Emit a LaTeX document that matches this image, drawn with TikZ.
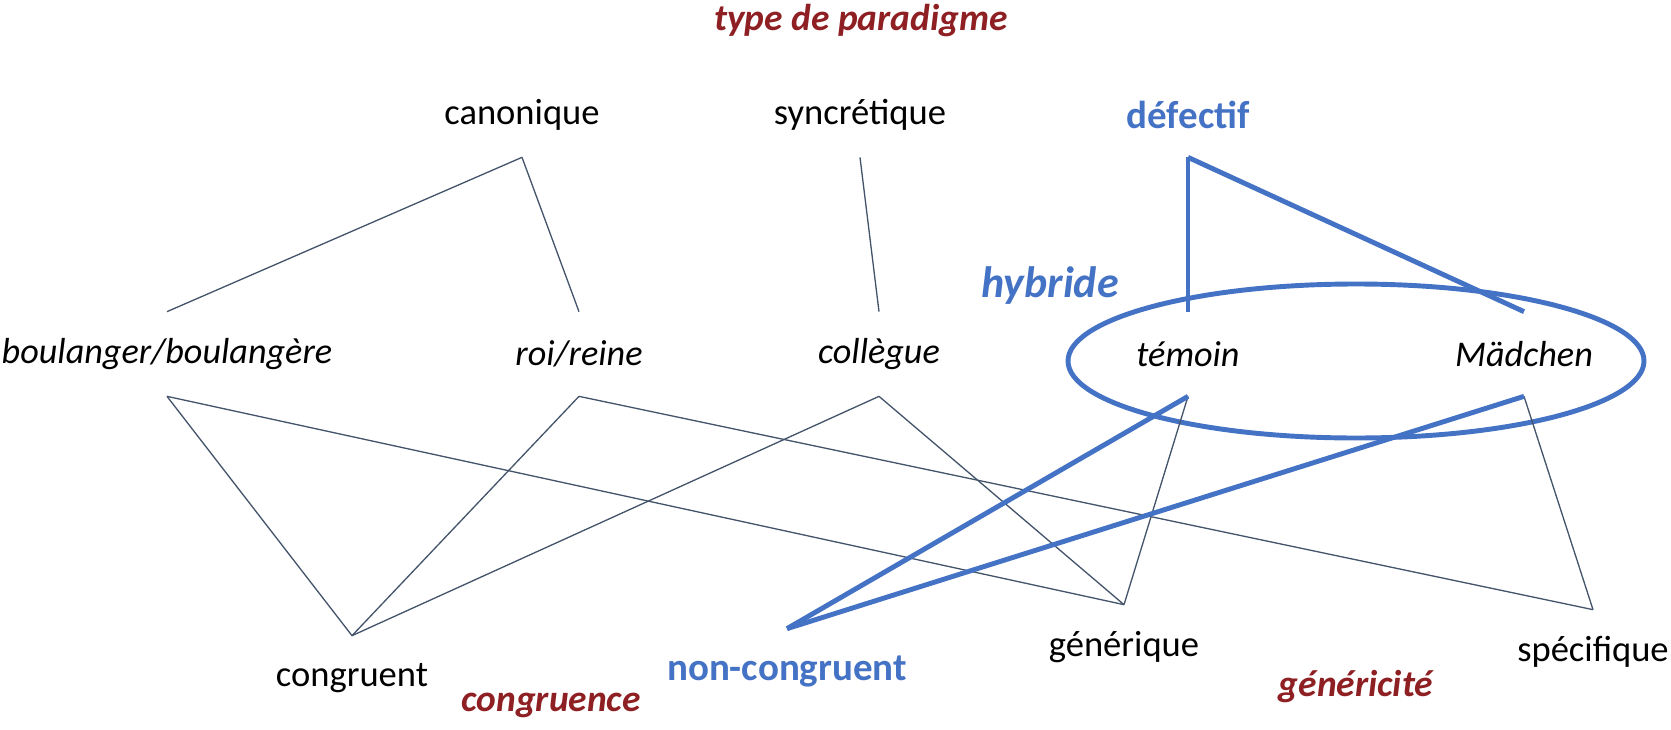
\documentclass[tikz,border=0pt]{standalone}
\usepackage{fontspec}
\setmainfont{Carlito}
\usepackage{xcolor}
\usepackage{tikz}
\usetikzlibrary{positioning}

\definecolor{titlered}{HTML}{8E1F22}
\definecolor{hybblue}{HTML}{4472C4}
\definecolor{slate}{HTML}{44546A}

\begin{document}
\begin{tikzpicture}[x=0.02cm,y=-0.02cm,
   term/.style={inner sep=0pt,minimum height=1.68cm,font=\fontsize{20.8}{24}\selectfont},
   ex/.style={term,font=\fontsize{20.6}{24}\selectfont\itshape},
   dim/.style={inner sep=0pt,text=titlered,font=\fontsize{21.3}{24}\selectfont\bfseries\itshape},
   blue/.style={term,text=hybblue,font=\fontsize{22.2}{24}\selectfont\bfseries},
   thin/.style={draw=slate,line width=0.75pt},
   thick/.style={draw=hybblue,line width=2.8pt}]
   \useasboundingbox (0,0) rectangle (1671,730);
   % dimensions
   \node[dim] (parad) at (861,21) {type de paradigme};
   \node[dim] (congr) at (551,705) {congruence};
   \node[dim] (gener) at (1356,687) {généricité};
   % paradigm types
   \node[term] (canon) at (522,115) {canonique};
   \node[term] (syncr) at (860,115) {syncrétique};
   \node[blue] (defec) at (1188,115) {défectif};
   % examples
   \node[ex] (boul) at (167,354) {boulanger/boulangère};
   \node[ex] (roi)  at (579,354) {roi/reine};
   \node[ex] (coll) at (879,354) {collègue};
   \node[ex] (temo) at (1188,354) {témoin};
   \node[ex] (mad)  at (1524,354) {Mädchen};
   \node[inner sep=0pt,text=hybblue,font=\fontsize{25}{28}\selectfont\bfseries\itshape] (hyb) at (1050,286) {hybride};
   % values
   \node[term] (cong) at (352,678) {congruent};
   \node[blue] (ncong) at (787,671) {non-congruent};
   \node[term] (gen) at (1124,647) {générique};
   \node[term] (spec) at (1593,652) {spécifique};
   \draw[thick] (1356,361) ellipse [x radius=288,y radius=77];
   \path[thin]
    (canon.south) edge (boul.north)
    (canon.south) edge (roi.north)
    (syncr.south) edge (coll.north)
    (boul.south) edge (cong.north)
    (boul.south) edge (gen.north)
    (roi.south) edge (cong.north)
    (roi.south) edge (spec.north)
    (coll.south) edge (cong.north)
    (coll.south) edge (gen.north)
    (temo.south) edge (gen.north)
    (mad.south) edge (spec.north);
   \path[thick]
    (defec.south) edge (temo.north)
    (defec.south) edge (mad.north)
    (temo.south) edge (ncong.north)
    (mad.south) edge (ncong.north);
\end{tikzpicture}
\end{document}
